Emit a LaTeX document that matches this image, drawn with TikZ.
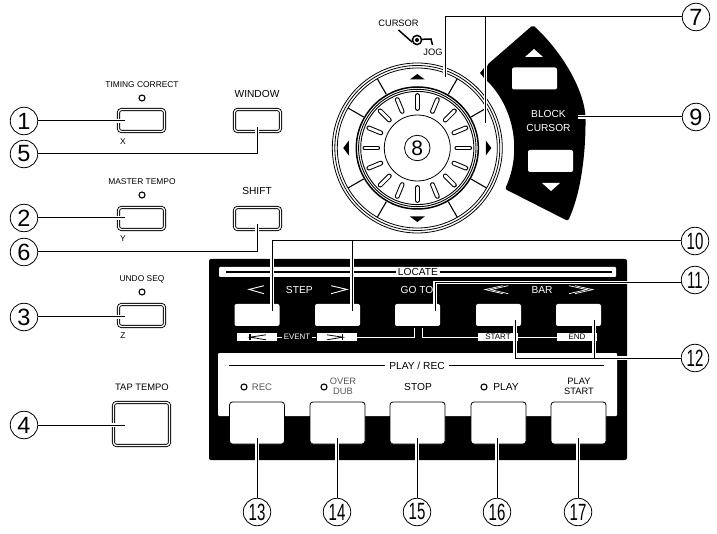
\documentclass[tikz,border=0pt]{standalone}
\usepackage{fontspec}
\setmainfont{Liberation Sans}
\usetikzlibrary{shapes}

\newcommand{\fsz}[1]{\fontsize{#1}{#1}\selectfont}
\newcommand{\nrw}[1]{\scalebox{.64}[1]{#1}}

\tikzset{
    numc/.style={circle, draw, fill=white, line width=.8pt, minimum size=27.5pt, inner sep=0pt, font=\fsz{23.5}},
    leader/.style={line width=1pt, preaction={draw, white, line width=3.6pt}},
    sbtn/.style={rectangle, draw, double, double distance=1.3pt, line width=.9pt, rounded corners=3pt, minimum width=46pt, minimum height=22pt, inner sep=0pt},
    wbtn/.style={rectangle, fill=white, rounded corners=2pt, minimum width=45pt, minimum height=22pt, inner sep=0pt},
    pbtn/.style={rectangle, draw, fill=white, line width=.8pt, rounded corners=3pt, minimum width=55pt, minimum height=42pt, inner sep=0pt},
    wbar/.style={rectangle, fill=white, minimum width=40pt, minimum height=8pt, inner sep=0pt, font=\fsz{8}},
    led/.style={circle, draw, line width=1.1pt, fill=white, minimum size=6pt, inner sep=0pt},
    lab/.style={font=\fsz{10.2}, inner sep=1pt},
    slab/.style={font=\fsz{8.4}, inner sep=1pt},
    glab/.style={font=\fsz{9.6}, inner sep=0pt, text=black!65, align=center},
    wlab/.style={font=\fsz{10.2}, inner sep=1pt, text=white, align=center},
    wline/.style={white, line width=.9pt},
    stripline/.style={line width=1.3pt},
    ring/.style={line width=.8pt},
}

\begin{document}
\begin{tikzpicture}[x=1pt, y=-1pt]

    \useasboundingbox (0,0) rectangle (717,534);

    % left column
    \node (b1) [sbtn] at (141.5,120.5) {};
    \node (b2) [sbtn] at (141.5,218.5) {};
    \node (b3) [sbtn] at (141.5,315.5) {};
    \node (b4) [sbtn, minimum width=56pt, minimum height=43pt] at (141.5,424) {};
    \node (b5) [sbtn] at (257.5,120.5) {};
    \node (b6) [sbtn] at (257.5,218.5) {};

    \node [slab] at (142,85) {TIMING CORRECT};
    \node [led] at (142,98) {};
    \node [slab] at (123,142) {X};
    \node [slab] at (142,182) {MASTER TEMPO};
    \node [led] at (142,195) {};
    \node [slab] at (123,239) {Y};
    \node [slab] at (142,279) {UNDO SEQ};
    \node [led] at (142,292) {};
    \node [slab] at (123,336) {Z};
    \node [lab, font=\fsz{9.4}] at (142,387) {TAP TEMPO};
    \node [lab] at (257,94) {WINDOW};
    \node [lab] at (257,191) {SHIFT};

    % jog wheel
    \foreach \r in {85,82.5,80}
        \draw [ring] (417.3,148) circle (\r);
    \foreach \a in {30,60,120,150,210,240,300,330}
        \draw [line width=1.1pt] (417.3,148) ++(\a:62) -- ++(\a:18);
    \foreach \a in {0,90,180,270}
        \fill [rotate around={\a:(417.3,148)}] (409.8,79.5) -- (424.8,79.5) -- (417.3,74) -- cycle;
    \draw [line width=1.5pt] (417.3,148) circle (61);
    \draw [line width=.9pt] (417.3,148) circle (58.7);
    \draw [line width=.9pt] (417.3,148) circle (56.6);
    \draw [line width=.8pt] (417.3,148) circle (33);
    \foreach \a in {0,22.5,...,337.5} {
        \draw [line width=4.8pt, line cap=round] (417.3,148) ++(\a:39.5) -- ++(\a:13);
        \draw [white, line width=2.8pt, line cap=round] (417.3,148) ++(\a:39.5) -- ++(\a:13);
    }
    \node (n8) [numc, minimum size=25.5pt, font=\fsz{21}] at (417.3,148) {8};

    \node [lab, font=\fsz{9.3}] at (398.5,23) {CURSOR};
    \node [lab, font=\fsz{9.3}] at (433,52) {JOG};
    \draw [line width=1.5pt] (398.5,30) -- (412,42);
    \draw [line width=1.5pt] (417,39.5) -- (431,39) -- (432.5,45);
    \draw [line width=1.5pt, fill=white] (417,40) circle (4.6);
    \fill (417,40) circle (2);

    % block cursor
    \fill [rounded corners=2pt] (533,25) .. controls (565,55) and (587,95) .. (585.5,125)
        .. controls (585,160) and (580,195) .. (568,221) -- (505,189)
        .. controls (522,152) and (514.4,108) .. (485.6,79.4) -- (487,65) -- cycle;
    \fill (484,68) -- (480,73) -- (484,78) -- cycle;
    \node (bu) [wbtn] at (534.5,78.5) {};
    \node (bd) [wbtn] at (550.5,161) {};
    \fill [white] (525,57) -- (543,57) -- (534,49) -- cycle;
    \fill [white] (542,183) -- (560,183) -- (551,191) -- cycle;
    \node (bc) [wlab, inner sep=0pt] at (548.5,121) {BLOCK\\[3pt]CURSOR};

    % panel
    \fill [rounded corners=2pt] (209,259) rectangle (627,460);
    \fill [white, rounded corners=1pt] (219,267) rectangle (616,277);
    \fill [white, rounded corners=1pt] (218,353) rectangle (617,416);

    \coordinate (la) at (226,272);
    \coordinate (lb) at (612,272);
    \node (loc) [lab, fill=white, inner sep=1.5pt, text height=7pt] at (418,272) {LOCATE};
    \draw [stripline] (la) -- (loc) -- (lb);

    \coordinate (pa) at (229,365.7);
    \coordinate (pb) at (604,365.7);
    \node (pr) [lab, fill=white, inner sep=4pt] at (417,365.7) {PLAY / REC};
    \draw [stripline] (pa) -- (pr) -- (pb);

    \node (s1) [wbtn] at (257,315) {};
    \node (s2) [wbtn] at (337.5,315) {};
    \node (s3) [wbtn] at (417.5,315) {};
    \node (s4) [wbtn] at (498.5,315) {};
    \node (s5) [wbtn] at (578.5,315) {};

    \draw [wline] (264,285.7) -- (249,289.4) -- (264,293.7);
    \draw [wline] (331,285.7) -- (347,289.4) -- (331,293.7);
    \draw [wline, line width=.7pt] (502.7,285.7) -- (485,289.6) -- (502.7,293.7);
    \draw [wline, line width=.7pt] (508.3,285.7) -- (490.7,289.6) -- (508.3,293.7);
    \draw [wline, line width=.7pt] (569,285.7) -- (586.7,289.6) -- (569,293.7);
    \draw [wline, line width=.7pt] (575,285.7) -- (592.7,289.6) -- (575,293.7);
    \node [wlab] at (299.3,289.5) {STEP};
    \node [wlab] at (417,289.5) {GO TO};
    \node [wlab] at (542,289.5) {BAR};

    \node (evl) [wbar] at (257,337) {};
    \node (evr) [wbar] at (336.5,337) {};
    \node (ev) [font=\fsz{7.9}, text=white, inner sep=1.5pt] at (297,337) {EVENT};
    \node (st) [wbar] at (498,337) {START};
    \node (en) [wbar] at (577,337) {END};
    \coordinate (gl) at (414,328);
    \coordinate (gr) at (422,328);
    \draw [wline] (evl) -- (ev) -- (evr);
    \draw [wline] (evr.east) -| (gl);
    \draw [wline] (st.west) -| (gr);
    \draw [wline] (st) -- (en);
    \draw [line width=1.3pt] (250,334.5) -- (250,340);
    \draw [line width=.8pt] (266,334.8) -- (250,337.2) -- (266,339.8);
    \draw [line width=1.3pt] (342.7,334.5) -- (342.7,340);
    \draw [line width=.8pt] (327,334.8) -- (342.7,337.2) -- (327,339.8);

    \node (p1) [pbtn] at (257,423) {};
    \node (p2) [pbtn] at (337.5,423) {};
    \node (p3) [pbtn] at (417.5,423) {};
    \node (p4) [pbtn] at (498.5,423) {};
    \node (p5) [pbtn] at (578.5,423) {};

    \node [led] at (244,387) {};
    \node [glab] at (262,387) {REC};
    \node [led] at (324,387) {};
    \node [glab, font=\fsz{9.3}] at (343,386) {OVER\\[.5pt]DUB};
    \node [lab] at (418,386.5) {STOP};
    \node [led] at (484,387) {};
    \node [lab] at (506,387) {PLAY};
    \node [lab, font=\fsz{9.3}, align=center, inner sep=0pt] at (579,386) {PLAY\\[.5pt]START};

    % numbers
    \node (n1) [numc] at (24,121) {1};
    \node (n2) [numc] at (24,218) {2};
    \node (n3) [numc] at (24,317) {3};
    \node (n4) [numc] at (24,425) {4};
    \node (n5) [numc] at (24,154) {5};
    \node (n6) [numc] at (24,252) {6};
    \node (n7) [numc] at (696,17) {7};
    \node (n9) [numc] at (696,117) {9};
    \node (n10) [numc] at (695,241) {\nrw{10}};
    \node (n11) [numc] at (695,280) {\nrw{11}};
    \node (n12) [numc] at (695,358) {\nrw{12}};

    \coordinate (e1) at (125,121);
    \coordinate (e2) at (125,218);
    \coordinate (e3) at (125,317);
    \coordinate (e4) at (125,425);
    \coordinate (e5) at (257,127);
    \coordinate (e6) at (257,224);
    \coordinate (e7) at (445,77);
    \coordinate (E7) at (485.3,123);
    \coordinate (e9) at (578,117);
    \coordinate (e10) at (272,311);
    \coordinate (E10) at (352,311);
    \coordinate (e11) at (435,311);
    \coordinate (e12) at (515,320);
    \coordinate (E12) at (594,320);

    \draw [leader] (n1) -- (e1);
    \draw [leader] (n2) -- (e2);
    \draw [leader] (n3) -- (e3);
    \draw [leader] (n4) -- (e4);
    \draw [leader] (n5.east) -| (e5);
    \draw [leader] (n6.east) -| (e6);
    \draw [leader] (e7) |- (n7.west) (E7) |- (n7.west);
    \draw [leader] (n9) -- (e9);
    \draw [leader] (e10) |- (n10.west) (E10) |- (n10.west);
    \draw [leader] (e11) |- ([yshift=-2.5]n11.west);
    \draw [leader] (e12) |- (n12.west) (E12) |- (n12.west);

    \foreach \i/\x in {13/257,14/337,15/417,16/497,17/578} {
        \node (n\i) [numc] at (\x,512) {\nrw{\i}};
        \coordinate (e\i) at (\x,438);
        \draw [leader] (e\i) -- (n\i);
    }

\end{tikzpicture}
\end{document}
